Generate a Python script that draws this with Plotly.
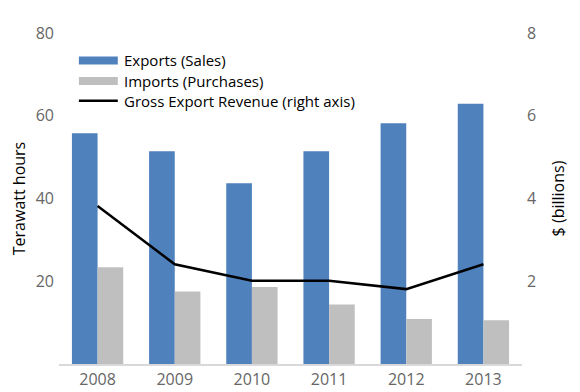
import plotly.graph_objects as go

years = ["2008", "2009", "2010", "2011", "2012", "2013"]
exports_twh = [55.8, 51.4, 43.7, 51.4, 58.2, 62.9]
imports_twh = [23.4, 17.5, 18.6, 14.4, 10.9, 10.6]
revenue_bn = [3.82, 2.41, 2.01, 2.01, 1.81, 2.41]

left_ticks = [20, 40, 60, 80]
right_ticks = [2, 4, 6, 8]

series_names = ["Exports (Sales)", "Imports (Purchases)", "Gross Export Revenue (right axis)"]
series_colors = ["#4F81BD", "#BFBFBF", "black"]

FONT = "Open Sans"
TICK_COLOR = "#666666"

fig = go.Figure()
fig.add_trace(go.Bar(x=years, y=exports_twh, name=series_names[0],
                     marker=dict(color=series_colors[0], line=dict(width=0))))
fig.add_trace(go.Bar(x=years, y=imports_twh, name=series_names[1],
                     marker=dict(color=series_colors[1], line=dict(width=0))))
fig.add_trace(go.Scatter(x=years, y=revenue_bn, name=series_names[2],
                         mode="lines", line=dict(color=series_colors[2], width=2.5),
                         yaxis="y2"))

# custom legend (wide swatches like the original)
sw_x0, sw_x1, txt_x = 0.043, 0.127, 0.136
rows = [0.917, 0.855, 0.795]
fig.add_shape(type="rect", xref="paper", yref="paper", x0=sw_x0, x1=sw_x1,
              y0=rows[0] - 0.012, y1=rows[0] + 0.012, fillcolor=series_colors[0], line=dict(width=0))
fig.add_shape(type="rect", xref="paper", yref="paper", x0=sw_x0, x1=sw_x1,
              y0=rows[1] - 0.012, y1=rows[1] + 0.012, fillcolor=series_colors[1], line=dict(width=0))
fig.add_shape(type="line", xref="paper", yref="paper", x0=sw_x0, x1=sw_x1,
              y0=rows[2], y1=rows[2], line=dict(color=series_colors[2], width=2.5))
for name, yy in zip(series_names, rows):
    fig.add_annotation(xref="paper", yref="paper", x=txt_x, y=yy, text=name,
                       showarrow=False, xanchor="left", yanchor="middle",
                       font=dict(family=FONT, size=15, color="black"))

# page body has an 8px default margin: figure is 572x384 placed at (8, 8)
fig.update_layout(
    width=572, height=384,
    margin=dict(l=51, r=58, t=25, b=28),
    paper_bgcolor="white", plot_bgcolor="white",
    font=dict(family=FONT, size=16, color="black"),
    barmode="group", bargap=0.335, bargroupgap=0,
    showlegend=False,
    xaxis=dict(showgrid=False, showline=True, linecolor="#D9D9D9", linewidth=1.5,
               ticks="", automargin=False, tickfont=dict(size=16, color=TICK_COLOR)),
    yaxis=dict(range=[0, 80], tickvals=left_ticks, showgrid=False, zeroline=False,
               showline=False, ticks="", automargin=False, ticklabelstandoff=4,
               tickfont=dict(size=16, color=TICK_COLOR),
               title=dict(text="Terawatt hours", font=dict(size=16, color="black"), standoff=9)),
    yaxis2=dict(range=[0, 8], tickvals=right_ticks, overlaying="y", side="right",
                showgrid=False, zeroline=False, showline=False, ticks="", automargin=False,
                ticklabelstandoff=4,
                tickfont=dict(size=16, color=TICK_COLOR),
                title=dict(text="$ (billions)", font=dict(size=16, color="black"), standoff=17)),
)

fig.write_html("out.html")
